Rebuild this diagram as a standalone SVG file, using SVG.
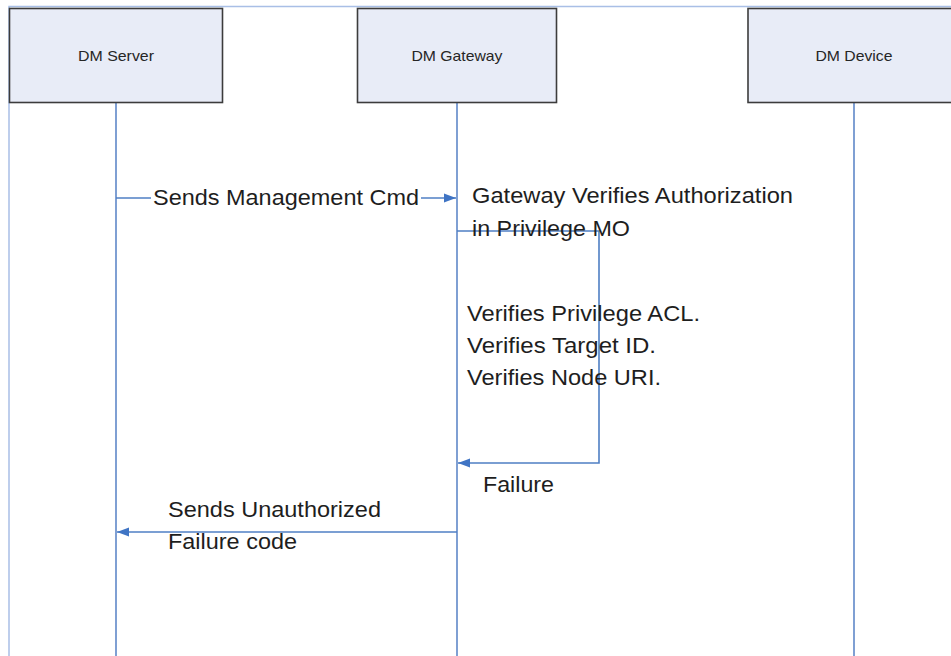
<svg xmlns="http://www.w3.org/2000/svg" width="951" height="656" viewBox="0 0 951 656">
<style>
  .frame{stroke:#a9bfe6;stroke-width:1.5;fill:none}
  .box{fill:#e8ecf7;stroke:#3c3c3c;stroke-width:1.6}
  .life{stroke:#5f88c8;stroke-width:1.6;fill:none}
  .msg{stroke:#4f7fc4;stroke-width:1.6;fill:none}
  .lbl{font-family:"Liberation Sans",Arial,sans-serif;font-size:14.5px;fill:#262626;text-anchor:middle}
  .txt{font-family:"Liberation Sans",Arial,sans-serif;font-size:22px;fill:#1e1e1e}
</style>
<defs>
  <marker id="ah" viewBox="0 0 12 10" refX="12" refY="5" markerWidth="12" markerHeight="10" markerUnits="userSpaceOnUse" orient="auto">
    <path d="M0,0.5 L12,5 L0,9.5 Z" fill="#3f74c4"/>
  </marker>
</defs>
<rect x="0" y="0" width="951" height="656" fill="#ffffff"/>
<g id="frame">
  <path class="frame" d="M9,656 V6.5 H951"/>
</g>
<g id="lifelines">
  <line class="life" x1="116" y1="103" x2="116" y2="656"/>
  <line class="life" x1="457" y1="103" x2="457" y2="656"/>
  <line class="life" x1="854" y1="103" x2="854" y2="656"/>
</g>
<g id="dm-server">
  <rect class="box" x="9.5" y="8.5" width="213" height="94"/>
  <text class="lbl" x="116" y="61" textLength="76" lengthAdjust="spacingAndGlyphs">DM Server</text>
</g>
<g id="dm-gateway">
  <rect class="box" x="357.5" y="8.5" width="199" height="94"/>
  <text class="lbl" x="457" y="61" textLength="91" lengthAdjust="spacingAndGlyphs">DM Gateway</text>
</g>
<g id="dm-device">
  <rect class="box" x="748" y="8.5" width="214" height="94"/>
  <text class="lbl" x="854" y="61" textLength="77" lengthAdjust="spacingAndGlyphs">DM Device</text>
</g>
<g id="connectors">
  <line class="msg" x1="116" y1="198" x2="151" y2="198"/>
  <line class="msg" x1="421" y1="198" x2="456" y2="198" marker-end="url(#ah)"/>
  <path class="msg" d="M457,231 H599 V463 H458" marker-end="url(#ah)"/>
  <line class="msg" x1="457" y1="532" x2="117" y2="532" marker-end="url(#ah)"/>
</g>
<g id="labels">
  <text class="txt" x="153" y="205" textLength="266" lengthAdjust="spacingAndGlyphs">Sends Management Cmd</text>
  <text class="txt" x="472" y="203" textLength="321" lengthAdjust="spacingAndGlyphs">Gateway Verifies Authorization</text>
  <text class="txt" x="472" y="236" textLength="158" lengthAdjust="spacingAndGlyphs">in Privilege MO</text>
  <text class="txt" x="467" y="321" textLength="233" lengthAdjust="spacingAndGlyphs">Verifies Privilege ACL.</text>
  <text class="txt" x="467" y="353" textLength="189" lengthAdjust="spacingAndGlyphs">Verifies Target ID.</text>
  <text class="txt" x="467" y="385" textLength="194" lengthAdjust="spacingAndGlyphs">Verifies Node URI.</text>
  <text class="txt" x="483" y="492" textLength="71" lengthAdjust="spacingAndGlyphs">Failure</text>
  <text class="txt" x="168" y="517" textLength="213" lengthAdjust="spacingAndGlyphs">Sends Unauthorized</text>
  <text class="txt" x="168" y="549" textLength="129" lengthAdjust="spacingAndGlyphs">Failure code</text>
</g>
</svg>
